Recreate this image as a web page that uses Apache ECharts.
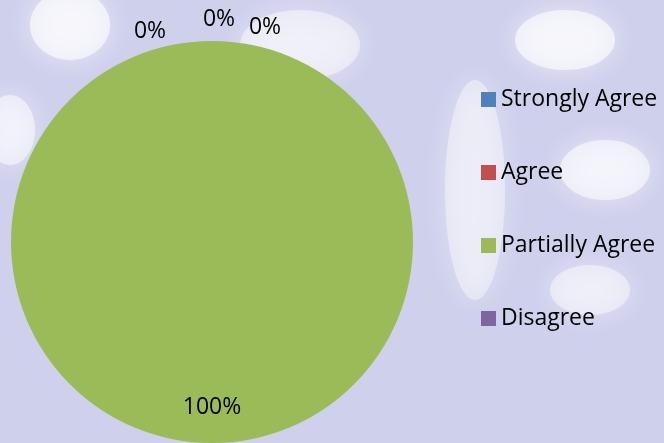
<!DOCTYPE html>
<html>
<head>
<meta charset="utf-8">
<script src="https://cdn.jsdelivr.net/npm/echarts@6/dist/echarts.min.js"></script>
<style>
  html, body { margin: 0; padding: 0; background: #cfd0ec; }
  #chart { width: 664px; height: 443px; }
</style>
</head>
<body>
<div id="chart"></div>
<script>
// survey answers (percent of respondents)
const categories = ['Strongly Agree', 'Agree', 'Partially Agree', 'Disagree'];
const values = [0, 0, 100, 0];
const colors = ['#4f81bd', '#c0504d', '#9bbb59', '#8064a2'];

// where each label sits, relative to pie centre
const labelOffsets = [[-62, -211], [7, -223], [0, 165], [53, -215]];

const chart = echarts.init(document.getElementById('chart'));
const pieCenter = [212, 242];

// soft white blob for the watermark behind the chart
function blob(cx, cy, rx, ry, a) {
  return {
    type: 'ellipse',
    shape: { cx: cx, cy: cy, rx: rx, ry: ry },
    style: { fill: 'rgba(255,255,255,' + a + ')', shadowBlur: 25, shadowColor: 'rgba(255,255,255,0.9)' },
    silent: true,
    z: -10
  };
}

const option = {
  backgroundColor: '#cfd0ec',
  textStyle: { fontFamily: 'Open Sans' },
  graphic: [
    blob(70, 25, 40, 35, 0.6),
    blob(10, 130, 25, 35, 0.5),
    blob(565, 40, 50, 30, 0.6),
    blob(605, 170, 45, 30, 0.55),
    blob(590, 290, 40, 25, 0.45),
    blob(475, 190, 30, 110, 0.4),
    blob(300, 45, 60, 35, 0.45)
  ],
  legend: {
    orient: 'vertical',
    left: 476,
    top: 83,
    itemWidth: 15,
    itemHeight: 15,
    itemGap: 50,
    icon: 'rect',
    selectedMode: false,
    data: categories,
    textStyle: { fontSize: 23, lineHeight: 23, color: '#000', fontFamily: 'Open Sans' }
  },
  series: [
    {
      type: 'pie',
      center: pieCenter,
      radius: 201,
      startAngle: 90,
      clockwise: true,
      avoidLabelOverlap: false,
      animation: false,
      label: {
        show: true,
        position: 'outside',
        formatter: '{d}%',
        fontSize: 23,
        color: '#000',
        fontFamily: 'Open Sans'
      },
      labelLine: { show: false },
      labelLayout: function (params) {
        const off = labelOffsets[params.dataIndex];
        return {
          x: pieCenter[0] + off[0],
          y: pieCenter[1] + off[1],
          align: 'center',
          verticalAlign: 'middle'
        };
      },
      emphasis: { disabled: true },
      data: categories.map((name, i) => ({
        name: name,
        value: values[i],
        itemStyle: { color: colors[i] }
      }))
    }
  ]
};

chart.setOption(option);
</script>
</body>
</html>
